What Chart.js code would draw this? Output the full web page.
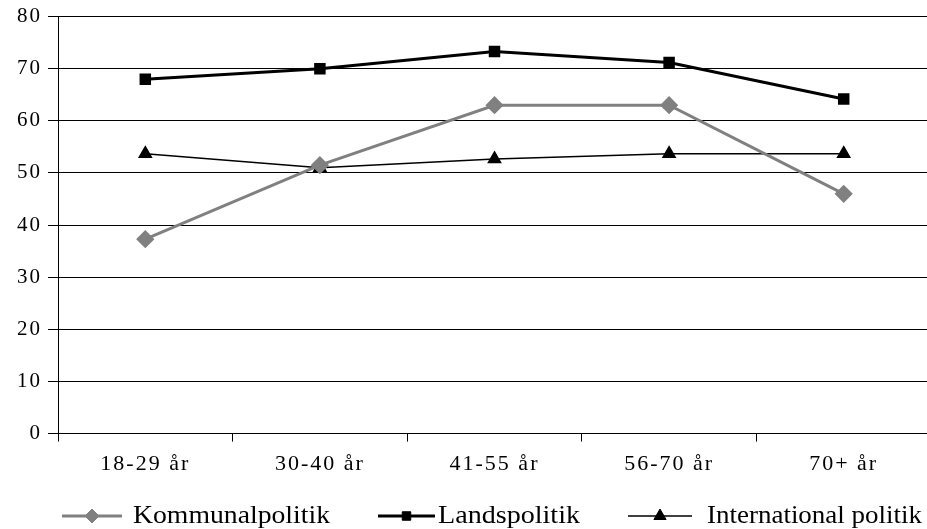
<!DOCTYPE html>
<html>
<head>
<meta charset="utf-8">
<script src="https://cdn.jsdelivr.net/npm/chart.js@4/dist/chart.umd.min.js"></script>
<style>
  html, body { margin: 0; padding: 0; background: #fff; overflow: hidden; }
  canvas { display: block; margin-top: -2px; }
</style>
</head>
<body>
<canvas id="chart" width="941" height="531"></canvas>
<script>
// kategorier och värden
const categories = ["18-29 år", "30-40 år", "41-55 år", "56-70 år", "70+ år"];
const kommunal = [37.3, 51.5, 63, 63, 46];
const lands = [68, 70, 73.3, 71.2, 64.2];
const international = [53.7, 51, 52.7, 53.7, 53.7];
const yTicks = [0, 10, 20, 30, 40, 50, 60, 70, 80];

const serif = "'Liberation Serif', 'Times New Roman', serif";

// legend ritas för hand: linje + markör + text
const legendLayout = [
  { x0: 62, x1: 122, tx: 133, tw: 197 },
  { x0: 378, x1: 435, tx: 438, tw: 142 },
  { x0: 628, x1: 692, tx: 707, tw: 215 }
];

const spacingPlugin = {
  id: "spacing",
  beforeInit(chart) { chart.ctx.letterSpacing = "2px"; },
  beforeDraw(chart) { chart.ctx.letterSpacing = "2px"; }
};

const legendPlugin = {
  id: "lineLegend",
  afterDraw(chart) {
    const ctx = chart.ctx;
    const y = 518;
    chart.data.datasets.forEach((ds, i) => {
      const L = legendLayout[i];
      ctx.save();
      ctx.strokeStyle = ds.borderColor;
      ctx.lineWidth = ds.borderWidth;
      ctx.beginPath();
      ctx.moveTo(L.x0, y);
      ctx.lineTo(L.x1, y);
      ctx.stroke();
      ctx.fillStyle = ds.pointBackgroundColor;
      ctx.strokeStyle = ds.pointBorderColor;
      ctx.lineWidth = 1;
      Chart.helpers.drawPoint(ctx, { pointStyle: ds.pointStyle, radius: ds.pointRadius, borderWidth: 1, rotation: 0 }, (L.x0 + L.x1) / 2, y);
      ctx.letterSpacing = "0px";
      ctx.font = "25px " + serif;
      ctx.fillStyle = "#000";
      ctx.textBaseline = "middle";
      const w = ctx.measureText(ds.label).width;
      ctx.translate(L.tx, y);
      ctx.scale(L.tw / w, 1);
      ctx.fillText(ds.label, 0, 0);
      ctx.restore();
    });
  }
};

new Chart(document.getElementById("chart"), {
  type: "line",
  data: {
    labels: categories,
    datasets: [
      {
        label: "Kommunalpolitik",
        data: kommunal,
        borderColor: "#808080",
        borderWidth: 3,
        pointStyle: "rectRot",
        pointRadius: 7,
        pointBackgroundColor: "#808080",
        pointBorderColor: "#808080",
        tension: 0
      },
      {
        label: "Landspolitik",
        data: lands,
        borderColor: "#000",
        borderWidth: 3,
        pointStyle: "rect",
        pointRadius: 6,
        pointBackgroundColor: "#000",
        pointBorderColor: "#000",
        tension: 0
      },
      {
        label: "International politik",
        data: international,
        borderColor: "#000",
        borderWidth: 1.5,
        pointStyle: "triangle",
        pointRadius: 7,
        pointBackgroundColor: "#000",
        pointBorderColor: "#000",
        tension: 0
      }
    ]
  },
  options: {
    responsive: false,
    animation: false,
    layout: { padding: { top: 0, left: 4, right: 0, bottom: 43 } },
    plugins: {
      legend: { display: false },
      tooltip: { enabled: false }
    },
    scales: {
      x: {
        type: "category",
        offset: true,
        grid: { offset: true, drawOnChartArea: false, color: "#000", tickLength: 8 },
        border: { color: "#000", width: 1 },
        ticks: {
          color: "#000",
          padding: 9,
          maxRotation: 0,
          font: { family: serif, size: 22 }
        }
      },
      y: {
        min: 0,
        max: 80,
        afterBuildTicks(axis) { axis.ticks = yTicks.map(v => ({ value: v })); },
        afterFit(axis) { axis.width = 54; },
        grid: { color: "#000", lineWidth: 1, tickLength: 10 },
        border: { color: "#000", width: 1 },
        ticks: {
          color: "#000",
          padding: 6,
          font: { family: serif, size: 21 }
        }
      }
    }
  },
  plugins: [spacingPlugin, legendPlugin]
});
</script>
</body>
</html>
